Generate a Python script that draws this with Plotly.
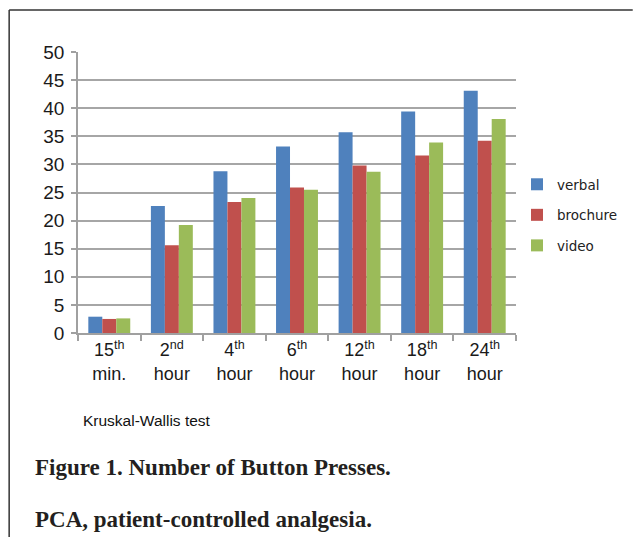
import plotly.graph_objects as go

categories = ["15<sup>th</sup><br>min.", "2<sup>nd</sup><br>hour", "4<sup>th</sup><br>hour",
              "6<sup>th</sup><br>hour", "12<sup>th</sup><br>hour", "18<sup>th</sup><br>hour",
              "24<sup>th</sup><br>hour"]
verbal = [2.9, 22.6, 28.8, 33.2, 35.7, 39.4, 43.1]
brochure = [2.5, 15.6, 23.3, 25.9, 29.8, 31.6, 34.2]
video = [2.6, 19.2, 24.0, 25.5, 28.7, 33.9, 38.1]
series_names = ["verbal", "brochure", "video"]
colors = ["#4F81BD", "#C0504D", "#9BBB59"]
y_ticks = [0, 5, 10, 15, 20, 25, 30, 35, 40, 45, 50]

W, H = 634, 537
L, R, T, B = 78, 517, 52, 333
PW, PH = R - L, B - T


def px(x):
    return (x - L) / PW


def py(y):
    return 1 - (y - T) / PH


fig = go.Figure()
for name, vals, col in zip(series_names, [verbal, brochure, video], colors):
    fig.add_trace(go.Bar(x=categories, y=vals, name=name, marker_color=col,
                         marker_line_width=0, legendgroup=name))

fig.update_layout(
    width=W, height=H,
    margin=dict(l=L, r=W - R, t=T, b=H - B, pad=0),
    paper_bgcolor="white", plot_bgcolor="white",
    barmode="group", bargap=0.33, bargroupgap=0,
    font=dict(family="Liberation Sans, Arial, sans-serif", color="#1a1a1a"),
    showlegend=True,
    legend=dict(x=px(517), y=py(169), xanchor="left", yanchor="top",
                font=dict(family="DejaVu Sans, sans-serif", size=13.5, color="#222"),
                tracegroupgap=10, itemwidth=30, bgcolor="rgba(0,0,0,0)"),
    xaxis=dict(showgrid=False, showline=True, linecolor="#a0a0a0", linewidth=1.5,
               ticks="outside", tickson="boundaries", ticklen=6, tickcolor="#a0a0a0",
               tickwidth=1.5, tickfont=dict(size=18, color="#1a1a1a"), fixedrange=True),
    yaxis=dict(range=[0, 50], tickvals=y_ticks, showgrid=True, gridcolor="#a6a6a6",
               gridwidth=1.5, showline=True, linecolor="#a0a0a0", linewidth=1.5,
               ticks="outside", ticklen=5, tickcolor="#a0a0a0", tickwidth=1.5,
               ticklabelstandoff=3,
               tickfont=dict(size=19, color="#1a1a1a"), zeroline=False),
)

# page frame
fig.add_shape(type="line", xref="paper", yref="paper", x0=px(9), x1=px(634), y0=py(10), y1=py(10),
              line=dict(color="#333", width=1.5))
fig.add_shape(type="line", xref="paper", yref="paper", x0=px(9), x1=px(9), y0=py(10), y1=py(537),
              line=dict(color="#333", width=1.5))

fig.add_annotation(text="Kruskal-Wallis test", xref="paper", yref="paper", x=px(81), y=py(420),
                   xanchor="left", yanchor="middle", showarrow=False,
                   font=dict(family="Liberation Sans, Arial, sans-serif", size=15.5, color="#111"))
fig.add_annotation(text="<b>Figure 1. Number of Button Presses.</b>", xref="paper", yref="paper",
                   x=px(33), y=py(468), xanchor="left", yanchor="middle", showarrow=False,
                   font=dict(family="Liberation Serif, serif", size=23, color="#231f20"))
fig.add_annotation(text="<b>PCA, patient-controlled analgesia.</b>", xref="paper", yref="paper",
                   x=px(33), y=py(519), xanchor="left", yanchor="middle", showarrow=False,
                   font=dict(family="Liberation Serif, serif", size=23, color="#231f20"))

fig.write_html("out.html", config={"displayModeBar": False},
               post_script="document.body.style.margin='0';document.body.style.padding='0';")
